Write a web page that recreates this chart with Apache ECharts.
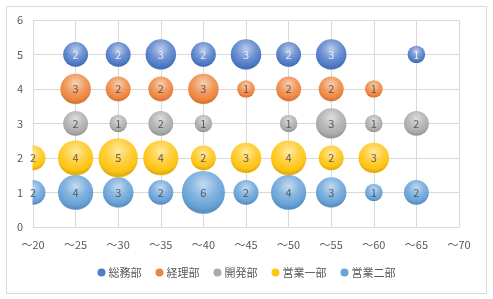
<!DOCTYPE html>
<html><head><meta charset="utf-8">
<script src="https://cdn.jsdelivr.net/npm/echarts@6/dist/echarts.min.js"></script>
<style>html,body{margin:0;padding:0;background:#fff}#c{width:493px;height:299px}</style>
</head><body><div id="c"></div>
<script>
const ages = [20, 25, 30, 35, 40, 45, 50, 55, 60, 65];
const xTicks = [20, 25, 30, 35, 40, 45, 50, 55, 60, 65, 70];
const seriesNames = ['総務部', '経理部', '開発部', '営業一部', '営業二部'];
const rowY = [5, 4, 3, 2, 1];
const soumu   = [null, 2, 2, 3, 2, 3, 2, 3, null, 1];
const keiri   = [null, 3, 2, 2, 3, 1, 2, 2, 1, null];
const kaihatsu= [null, 2, 1, 2, 1, null, 1, 3, 1, 2];
const eigyo1  = [2, 4, 5, 4, 2, 3, 4, 2, 3, null];
const eigyo2  = [2, 4, 3, 2, 6, 2, 4, 3, 1, 2];
const values = [soumu, keiri, kaihatsu, eigyo1, eigyo2];
const colors = ['#4472C4', '#ED7D31', '#A5A5A5', '#FFC000', '#5B9BD5'];
const labelColors = ['#ffffff', '#404040', '#404040', '#404040', '#404040'];

function mix(hex, t, target) {
  const n = parseInt(hex.slice(1), 16);
  let r = n >> 16, g = (n >> 8) & 255, b = n & 255;
  r = Math.round(r + (target - r) * t); g = Math.round(g + (target - g) * t); b = Math.round(b + (target - b) * t);
  return 'rgb(' + r + ',' + g + ',' + b + ')';
}
function grad(c) {
  return {type: 'radial', x: 0.5, y: 0.32, r: 0.68, colorStops: [
    {offset: 0, color: mix(c, 0.62, 255)},
    {offset: 0.45, color: mix(c, 0.2, 255)},
    {offset: 0.78, color: c},
    {offset: 0.94, color: mix(c, 0.14, 0)},
    {offset: 1, color: mix(c, 0.2, 255)}
  ]};
}
const font = '"Noto Sans CJK JP", "Noto Sans", sans-serif';
const sizeFn = d => 17.6 * Math.sqrt(d[2]);
const dataOf = i => ages.map((a, j) => values[i][j] == null ? null : [a, rowY[i], values[i][j]]).filter(d => d);
const series = [];
seriesNames.forEach((name, i) => {
  series.push({
    name: name, type: 'scatter', z: 2,
    data: dataOf(i), symbolSize: sizeFn,
    itemStyle: {color: grad(colors[i]), opacity: 0.93},
    emphasis: {disabled: true}, clip: false
  });
});
seriesNames.forEach((name, i) => {
  series.push({
    name: 'lbl' + i, type: 'scatter', z: 10,
    data: dataOf(i), symbolSize: sizeFn,
    itemStyle: {color: 'rgba(0,0,0,0)'},
    label: {show: true, position: 'inside', formatter: p => String(p.value[2]), color: labelColors[i],
            textBorderWidth: 0, fontSize: 11, fontFamily: font},
    emphasis: {disabled: true}, silent: true, clip: false
  });
});
const yLabel = {color: '#595959', fontSize: 11, fontFamily: font, margin: 10};
const chart = echarts.init(document.getElementById('c'));
chart.setOption({
  animation: false,
  grid: {left: 33, right: 34, top: 20, bottom: 72},
  xAxis: {
    type: 'value', min: 20, max: 70, interval: 5,
    axisLine: {show: true, lineStyle: {color: '#D9D9D9'}},
    axisTick: {show: false},
    splitLine: {show: true, lineStyle: {color: '#D9D9D9'}},
    axisLabel: {formatter: v => xTicks.includes(v) ? '～' + v : '', color: '#595959', fontSize: 11, fontFamily: font, margin: 12}
  },
  yAxis: [{
    type: 'value', min: 0, max: 6, interval: 1,
    axisLine: {show: false}, axisTick: {show: false},
    splitLine: {show: true, lineStyle: {color: '#D9D9D9'}},
    axisLabel: {show: false}
  }, {
    type: 'value', min: 0, max: 6, interval: 1, position: 'left', z: 10,
    axisLine: {show: false}, axisTick: {show: false}, splitLine: {show: false},
    axisLabel: yLabel
  }],
  legend: {
    bottom: 16, left: 'center', itemWidth: 8, itemHeight: 8, itemGap: 14,
    icon: 'circle',
    textStyle: {color: '#595959', fontSize: 11, fontFamily: font, padding: [0, 0, 0, -2]},
    data: seriesNames.map((n, i) => ({name: n, itemStyle: {color: colors[i]}}))
  },
  graphic: [
    {type: 'rect', z: 5, silent: true, shape: {x: 7, y: 7, width: 25.5, height: 221}, style: {fill: '#fff'}},
    {type: 'rect', z: 100, silent: true, shape: {x: 6.5, y: 6.5, width: 480, height: 287}, style: {fill: 'none', stroke: '#D9D9D9', lineWidth: 1}}
  ],
  series: series
});
</script></body></html>
